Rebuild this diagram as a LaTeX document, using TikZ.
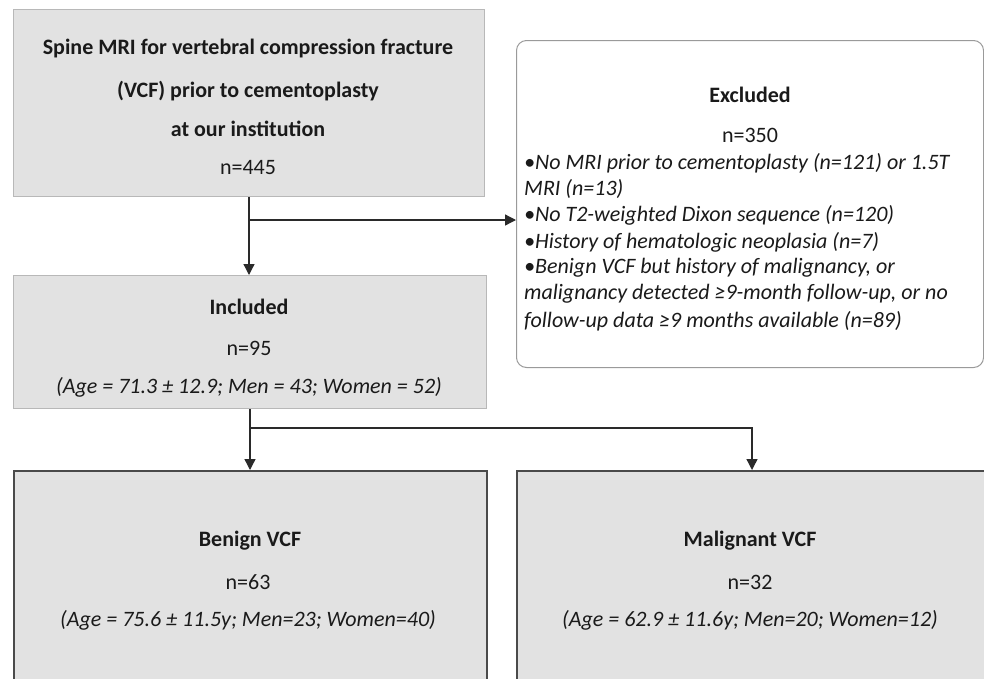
\documentclass[tikz,border=0pt]{standalone}
\usepackage{fontspec}
\setmainfont{Carlito}
\usetikzlibrary{arrows.meta}
\definecolor{boxfill}{HTML}{E2E2E2}
\definecolor{lightborder}{HTML}{B8B8B8}
\definecolor{darkborder}{HTML}{4A4A4A}
\definecolor{exborder}{HTML}{9A9A9A}
\definecolor{linecol}{HTML}{2A2A2A}
\definecolor{txt}{HTML}{1A1A1A}
\begin{document}
\begin{tikzpicture}[x=1pt,y=-1pt,
  lightbox/.style={draw=lightborder, fill=boxfill, line width=1pt, inner sep=0pt, anchor=north west},
  darkbox/.style={draw=darkborder, fill=boxfill, line width=2pt, inner sep=0pt, anchor=north west},
  exbox/.style={draw=exborder, fill=white, line width=1pt, rounded corners=10pt, inner sep=0pt, anchor=north west},
  conn/.style={draw=linecol, line width=1.3pt},
  arr/.style={conn, -{Triangle[length=11pt,width=11pt]}},
  lbl/.style={font=\fontsize{22}{26}\selectfont, text=txt, inner sep=0pt},
  blbl/.style={lbl, font=\fontsize{22}{26}\selectfont\bfseries},
  ilbl/.style={lbl, font=\fontsize{22}{26}\selectfont\itshape},
  elbl/.style={ilbl, anchor=west}]
\useasboundingbox (0,0) rectangle (984,678);
\clip (0,0) rectangle (984,678);
% boxes
\node[lightbox, minimum width=471pt, minimum height=187pt] (top) at (13,9) {};
\node[exbox, minimum width=467pt, minimum height=327pt] (excl) at (516,40) {};
\node[lightbox, minimum width=473pt, minimum height=133pt] (inc) at (13,275) {};
\node[darkbox, minimum width=473pt, minimum height=240pt] (ben) at (13,470) {};
\node[darkbox, minimum width=470pt, minimum height=240pt] (mal) at (516,470) {};
% top texts
\node[blbl] (t1) at (248,49) {Spine MRI for vertebral compression fracture};
\node[blbl] (t2) at (248,91) {(VCF) prior to cementoplasty};
\node[blbl] (t3) at (248,129) {at our institution};
\node[lbl] (t4) at (248,168) {n=445};
% excluded texts
\node[blbl] (e0) at (750,95) {Excluded};
\node[lbl] (en) at (750,135) {n=350};
\node[elbl] (e1) at (524,163) {•No MRI prior to cementoplasty (n=121) or 1.5T};
\node[elbl] (e2) at (524,189) {MRI (n=13)};
\node[elbl] (e3) at (524,215) {•No T2-weighted Dixon sequence (n=120)};
\node[elbl] (e4) at (524,242) {•History of hematologic neoplasia (n=7)};
\node[elbl] (e5) at (524,268) {•Benign VCF but history of malignancy, or};
\node[elbl] (e6) at (524,294) {malignancy detected ≥9-month follow-up, or no};
\node[elbl] (e7) at (524,321) {follow-up data ≥9 months available (n=89)};
% included texts
\node[blbl] (i1) at (249,307) {Included};
\node[lbl] (i2) at (249,348) {n=95};
\node[ilbl] (i3) at (249,387) {(Age = 71.3 ± 12.9; Men = 43; Women = 52)};
% benign texts
\node[blbl] (b1) at (250,541) {Benign VCF};
\node[lbl] (b2) at (248,582) {n=63};
\node[ilbl] (b3) at (248,620) {(Age = 75.6 ± 11.5y; Men=23; Women=40)};
% malignant texts
\node[blbl] (m1) at (750,541) {Malignant VCF};
\node[lbl] (m2) at (750,582) {n=32};
\node[ilbl] (m3) at (750,620) {(Age = 62.9 ± 11.6y; Men=20; Women=12)};
% connectors
\coordinate (br1) at ([yshift=-23pt]top.south);
\coordinate (br2) at ([yshift=-19pt]inc.south);
\draw[arr] (top.south) -- (top.south |- inc.north);
\draw[arr] (br1) -- (excl.west |- br1);
\draw[arr] (inc.south) -- (inc.south |- ben.north);
\draw[arr] (br2) -| (mal.north);
\end{tikzpicture}
\end{document}
